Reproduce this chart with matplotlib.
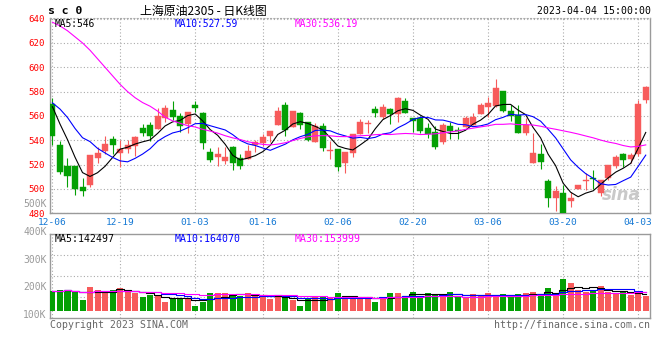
import numpy as np
import pandas as pd
import matplotlib
matplotlib.use("Agg")
import matplotlib.pyplot as plt

# ---------------- data ----------------
dates = ["12-06", "12-07", "12-08", "12-09", "12-12", "12-13", "12-14", "12-15", "12-16", "12-19",
         "12-20", "12-21", "12-22", "12-23", "12-26", "12-27", "12-28", "12-29", "12-30",
         "01-03", "01-04", "01-05", "01-06", "01-09", "01-10", "01-11", "01-12", "01-13", "01-16",
         "01-17", "01-18", "01-19", "01-20", "01-30", "01-31",
         "02-01", "02-02", "02-03", "02-06", "02-07", "02-08", "02-09", "02-10", "02-13", "02-14",
         "02-15", "02-16", "02-17", "02-20", "02-21", "02-22", "02-23", "02-24", "02-27", "02-28",
         "03-01", "03-02", "03-03", "03-06", "03-07", "03-08", "03-09", "03-10", "03-13", "03-14",
         "03-15", "03-16", "03-17", "03-20", "03-21", "03-22", "03-23", "03-24", "03-27", "03-28",
         "03-29", "03-30", "03-31", "04-03", "04-04"]

open_ = [570.1, 536.2, 518.9, 518.9, 501.6, 503.3, 525.8, 531.2, 541.1, 529.3,
         532.6, 535.6, 550.1, 552.6, 549.6, 558.6, 564.9, 560.0, 553.4, 569.3,
         562.5, 530.4, 526.6, 523.0, 534.5, 525.5, 524.4, 536.4, 537.8, 543.8,
         552.9, 569.0, 551.2, 562.5, 555.3, 538.6, 551.8, 531.5, 533.2, 521.4,
         529.6, 544.9, 553.2, 565.8, 559.5, 566.0, 561.9, 572.3, 558.6, 558.1,
         550.1, 546.8, 538.9, 551.8, 548.5, 551.2, 552.6, 561.4, 567.7, 568.2,
         580.3, 564.1, 560.5, 546.3, 521.6, 528.5, 506.6, 492.9, 496.4, 490.4,
         499.7, 506.8, 508.8, 496.4, 509.3, 518.9, 528.8, 524.7, 528.5, 573.4]
high = [574.5, 539.5, 525.5, 519.0, 509.3, 528.0, 534.5, 543.8, 543.6, 540.3,
        540.3, 543.3, 553.4, 555.3, 566.8, 569.3, 572.3, 562.7, 563.3, 572.0,
        563.6, 534.0, 534.2, 534.2, 535.3, 528.5, 536.2, 540.3, 544.9, 547.7,
        567.1, 571.2, 564.1, 563.6, 555.3, 554.0, 554.0, 539.5, 533.2, 530.4,
        545.5, 557.5, 556.7, 568.5, 569.6, 566.8, 575.9, 574.8, 558.6, 560.0,
        554.5, 552.1, 554.0, 555.3, 550.7, 560.0, 562.7, 570.7, 575.9, 590.4,
        580.3, 568.8, 569.0, 558.4, 545.8, 537.0, 508.5, 502.5, 503.3, 497.5,
        503.3, 512.9, 515.6, 507.4, 519.5, 527.9, 529.9, 529.9, 573.2, 584.9]
low = [536.2, 512.3, 501.9, 495.1, 494.2, 501.4, 521.6, 528.5, 528.8, 518.4,
       529.9, 527.1, 543.8, 539.7, 549.6, 555.3, 556.7, 547.1, 546.3, 563.3,
       532.9, 521.9, 519.2, 520.3, 515.9, 516.7, 524.4, 530.7, 535.1, 538.9,
       552.9, 543.8, 550.7, 549.6, 539.7, 538.6, 531.5, 524.5, 515.0, 513.2,
       526.3, 544.9, 546.0, 559.2, 557.3, 553.2, 555.3, 562.2, 546.8, 546.0,
       541.9, 532.6, 537.3, 541.1, 541.1, 551.2, 552.6, 561.4, 559.5, 567.1,
       563.3, 556.0, 545.8, 544.7, 521.6, 516.4, 485.2, 481.9, 478.5, 484.9,
       499.7, 499.2, 499.7, 494.2, 507.4, 517.5, 518.4, 521.1, 527.4, 570.4]
close = [543.8, 514.2, 510.7, 500.0, 498.6, 528.0, 529.6, 537.0, 535.9, 533.2,
         535.9, 542.7, 546.0, 543.8, 560.0, 566.6, 559.5, 552.1, 563.3, 566.8,
         538.1, 523.8, 528.5, 526.3, 521.6, 519.2, 531.2, 538.6, 542.7, 547.7,
         563.8, 548.8, 564.1, 552.3, 540.3, 551.8, 534.0, 532.1, 518.4, 530.4,
         545.5, 555.1, 554.5, 562.7, 567.4, 561.9, 575.1, 562.7, 555.9, 547.7,
         545.2, 534.5, 552.9, 547.7, 547.9, 558.4, 559.5, 569.3, 571.0, 583.0,
         564.4, 560.0, 545.8, 552.6, 529.9, 521.9, 492.9, 498.4, 480.5, 492.9,
         503.3, 507.7, 508.0, 507.4, 519.5, 526.6, 523.8, 527.9, 569.9, 584.1]
# closes of the 29 sessions before 12-06 (not drawn, only feed the moving averages)
prior_close = [604, 631, 650, 649, 708, 740, 747, 746, 743, 716,
               693, 666, 634, 680, 717, 650, 612, 623, 597, 598,
               565, 580, 590, 575, 560, 585, 575, 572, 562]
volume = [168200, 176700, 176700, 168200, 91200, 202400, 176700, 159600, 176700, 193800,
          159600, 151100, 116900, 134000, 125400, 74100, 108300, 108300, 108300, 39900,
          74100, 151100, 151100, 151100, 134000, 125400, 151100, 125400, 125400, 99800,
          116900, 108300, 91200, 39900, 108300, 116900, 116900, 108300, 151100, 116900,
          116900, 108300, 108300, 74100, 116900, 151100, 151100, 125400, 159600, 116900,
          151100, 142500, 142500, 159600, 116900, 116900, 142500, 125400, 151100, 125400,
          142500, 125400, 142500, 151100, 159600, 142500, 193800, 125400, 270800, 236600,
          176700, 159600, 176700, 210900, 159600, 142500, 159600, 134000, 168200, 125400]

tick_dates = ["12-06", "12-19", "01-03", "01-16", "02-06", "02-20", "03-06", "03-20", "04-03"]
price_ticks = [480, 500, 520, 540, 560, 580, 600, 620, 640]
vol_tick_values = [100, 200, 300, 400, 500]
vol_tick_labels = ["100K", "200K", "300K", "400K", "500K"]

title_code = "s c 0"
title_name = "上海原油2305 - 日K线图"
timestamp = "2023-04-04 15:00:00"
price_ma_labels = ["MA5:546", "MA10:527.59", "MA30:536.19"]
vol_ma_labels = ["MA5:142497", "MA10:164070", "MA30:153999"]
copyright_text = "Copyright 2023 SINA.COM"
url_text = "http://finance.sina.com.cn"

# ---------------- style ----------------
RED = "#f75b5b"
GREEN = "#04a004"
MA_COLORS = ["#000000", "#0000ff", "#ff00ff"]
GRID = "#aaaaaa"
SPINE = "#9a9a9a"
MONO = ["DejaVu Sans Mono"]
CJK = ["Noto Sans CJK SC", "DejaVu Sans"]

W, H = 660, 360
fig = plt.figure(figsize=(W / 100, H / 100), dpi=100)


def ax_at(l, t, r, b, **kw):
    return fig.add_axes([l / W, 1 - b / H, (r - l) / W, (b - t) / H], **kw)


def ftext(x, y, s, **kw):
    fig.text(x / W, 1 - y / H, s, **kw)


n = len(close)
x = np.arange(n)
o = np.array(open_); c = np.array(close); hi = np.array(high); lo = np.array(low)
up = c >= o
colors = np.where(up, RED, GREEN)

allc = pd.Series(list(prior_close) + list(close), dtype=float)
ma_price = [allc.rolling(w).mean().values[len(prior_close):] for w in (5, 10, 30)]
vs = pd.Series(volume, dtype=float) / 1000.0
ma_vol = [vs.rolling(w, min_periods=1).mean().values for w in (5, 10, 30)]

tick_pos = [dates.index(d) for d in tick_dates]
XL = (-0.33, 79.5)

# ---------------- price panel ----------------
ax = ax_at(50, 18.3, 649.5, 213.3)
ax.set_xlim(*XL)
ax.set_ylim(480, 640.3)
ax.vlines(x, lo, hi, colors=colors, linewidth=0.8, zorder=3)
body_b = np.minimum(o, c)
body_h = np.maximum(np.abs(c - o), 0.35)
ax.bar(x, body_h, bottom=body_b, width=0.8, color=colors, edgecolor=colors,
       linewidth=0.3, zorder=4)
for m, col in zip(ma_price, MA_COLORS):
    ax.plot(x, m, color=col, linewidth=0.8, zorder=5)

ax.set_yticks(price_ticks)
ax.set_yticklabels([str(v) for v in price_ticks])
ax.set_xticks(tick_pos)
ax.set_xticklabels(tick_dates)
ax.tick_params(axis="y", length=0, pad=3.5, labelcolor="#ff0000", labelsize=6.6)
ax.tick_params(axis="x", length=0, pad=3.2, labelcolor="#1478d4", labelsize=6.8)
for lab in ax.get_xticklabels() + ax.get_yticklabels():
    lab.set_family(MONO)
ax.grid(True, color=GRID, linestyle=(0, (1, 2)), linewidth=0.8, zorder=0)
for s in ("left", "right", "bottom"):
    ax.spines[s].set_color(SPINE)
    ax.spines[s].set_linewidth(1.0)
ax.spines["top"].set_color(GRID)
ax.spines["top"].set_linestyle((0, (1, 2)))
ax.spines["top"].set_linewidth(0.8)

# watermark
ax.text(0.985, 0.05, "sina", transform=ax.transAxes, ha="right", va="bottom",
        fontsize=12, fontweight="bold", style="italic", color="#c9c9c9", zorder=2)

# ---------------- volume panel ----------------
av = ax_at(50, 234.3, 649.5, 318)
av.set_xlim(*XL)
v_lo, v_hi = -62.4, 653.2
av.set_ylim(v_lo, v_hi)
av.bar(x, vs.values, width=0.8, color=colors, linewidth=0, zorder=3)
for m, col in zip(ma_vol, MA_COLORS):
    av.plot(x, m, color=col, linewidth=0.8, drawstyle="steps-mid", zorder=4)
av.set_xticks(tick_pos)
av.set_xticklabels([])
av.set_yticks(np.linspace(v_lo, v_hi, 5)[1:-1])
av.set_yticklabels([])
av.tick_params(length=0)
av.grid(True, color=GRID, linestyle=(0, (1, 2)), linewidth=0.8, zorder=0)
for s in av.spines.values():
    s.set_color(SPINE)
    s.set_linewidth(1.0)

# volume scale labels (separate transparent axis)
al = ax_at(50, 190, 649.5, 325)
al.set_ylim((341.8 - 325) / 0.2776, (341.8 - 190) / 0.2776)
al.set_xlim(0, 1)
al.patch.set_alpha(0)
for s in al.spines.values():
    s.set_visible(False)
al.set_xticks([])
al.set_yticks(vol_tick_values)
al.set_yticklabels(vol_tick_labels)
al.tick_params(axis="y", length=0, pad=2.5, labelcolor="#9a9a9a", labelsize=7)
for lab in al.get_yticklabels():
    lab.set_family(MONO)

# ---------------- texts ----------------
ftext(48, 11.5, title_code, family=MONO, fontsize=8.2, fontweight="bold",
      va="center", ha="left", color="#000000")
ftext(140, 11.5, title_name, family=CJK, fontsize=8.6, va="center", ha="left",
      color="#000000")
ftext(651, 11.5, timestamp, family=MONO, fontsize=7.1, va="center", ha="right",
      color="#000000")

for xx, s, col in zip((54.5, 175, 295), price_ma_labels, MA_COLORS):
    ftext(xx, 23.8, s, family=MONO, fontsize=6.9, va="center", ha="left", color=col)
for xx, s, col in zip((54.5, 175, 295), vol_ma_labels, MA_COLORS):
    ftext(xx, 238.8, s, family=MONO, fontsize=7.1, va="center", ha="left", color=col)

ftext(50, 324.5, copyright_text, family=MONO, fontsize=7.1, va="center", ha="left",
      color="#666666")
ftext(650, 324.5, url_text, family=MONO, fontsize=7.1, va="center", ha="right",
      color="#666666")

fig.savefig("out.png", dpi=100, facecolor="white")
